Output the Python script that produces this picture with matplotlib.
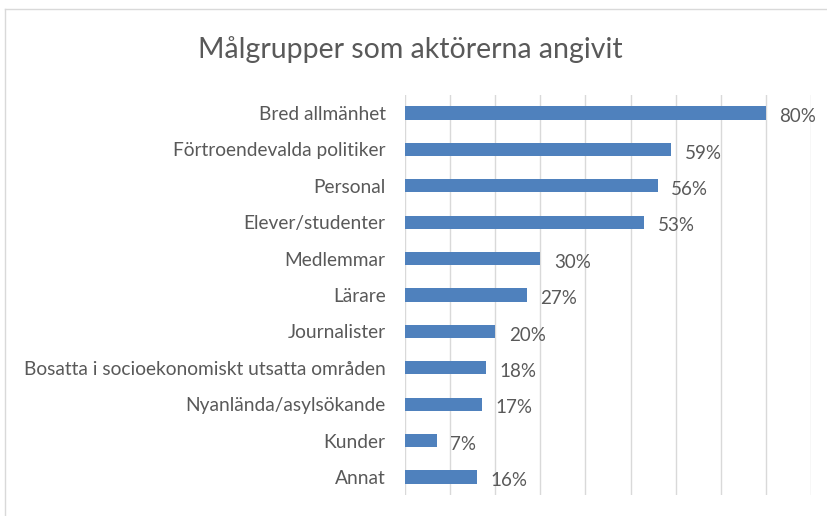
import matplotlib
matplotlib.use("Agg")
import matplotlib.pyplot as plt
from matplotlib.lines import Line2D
import numpy as np

categories = ["Bred allmänhet", "Förtroendevalda politiker", "Personal",
              "Elever/studenter", "Medlemmar", "Lärare", "Journalister",
              "Bosatta i socioekonomiskt utsatta områden",
              "Nyanlända/asylsökande", "Kunder", "Annat"]
values = [80, 59, 56, 53, 30, 27, 20, 18, 17, 7, 16]
title = "Målgrupper som aktörerna angivit"

plt.rcParams['font.family'] = ['Lato', 'DejaVu Sans']
text_color = '#595959'

fig = plt.figure(figsize=(8.27, 5.16), dpi=100)
ax = fig.add_axes([0.4897, 0.0403, 0.491, 0.776])

y = np.arange(len(categories))
ax.barh(y, values, height=0.36, color='#4F81BD', zorder=3)
ax.set_ylim(len(categories) - 0.5, -0.5)
ax.set_xlim(0, 90)
ax.set_xticks(np.arange(0, 91, 10))
ax.tick_params(axis='x', length=0, labelbottom=False)
ax.tick_params(axis='y', length=0, labelsize=13.8, labelcolor=text_color, pad=14)
ax.set_yticks(y)
ax.set_yticklabels(categories)
ax.grid(axis='x', color='#D9D9D9', linewidth=1, zorder=0)
for s in ax.spines.values():
    s.set_visible(False)

for i, v in enumerate(values):
    ax.text(v + 3, i + 0.1, f"{v}%", va='center', ha='left',
            fontsize=13.5, color=text_color)

fig.text(0.496, 0.905, title, ha='center', va='center', fontsize=20.5,
         color=text_color)

# chart frame
fig.add_artist(Line2D([5/827, 5/827], [0, 1 - 9/516], color='#D9D9D9', lw=1))
fig.add_artist(Line2D([5/827, 1], [1 - 9/516, 1 - 9/516], color='#D9D9D9', lw=1))

fig.savefig("out.png", dpi=100)
